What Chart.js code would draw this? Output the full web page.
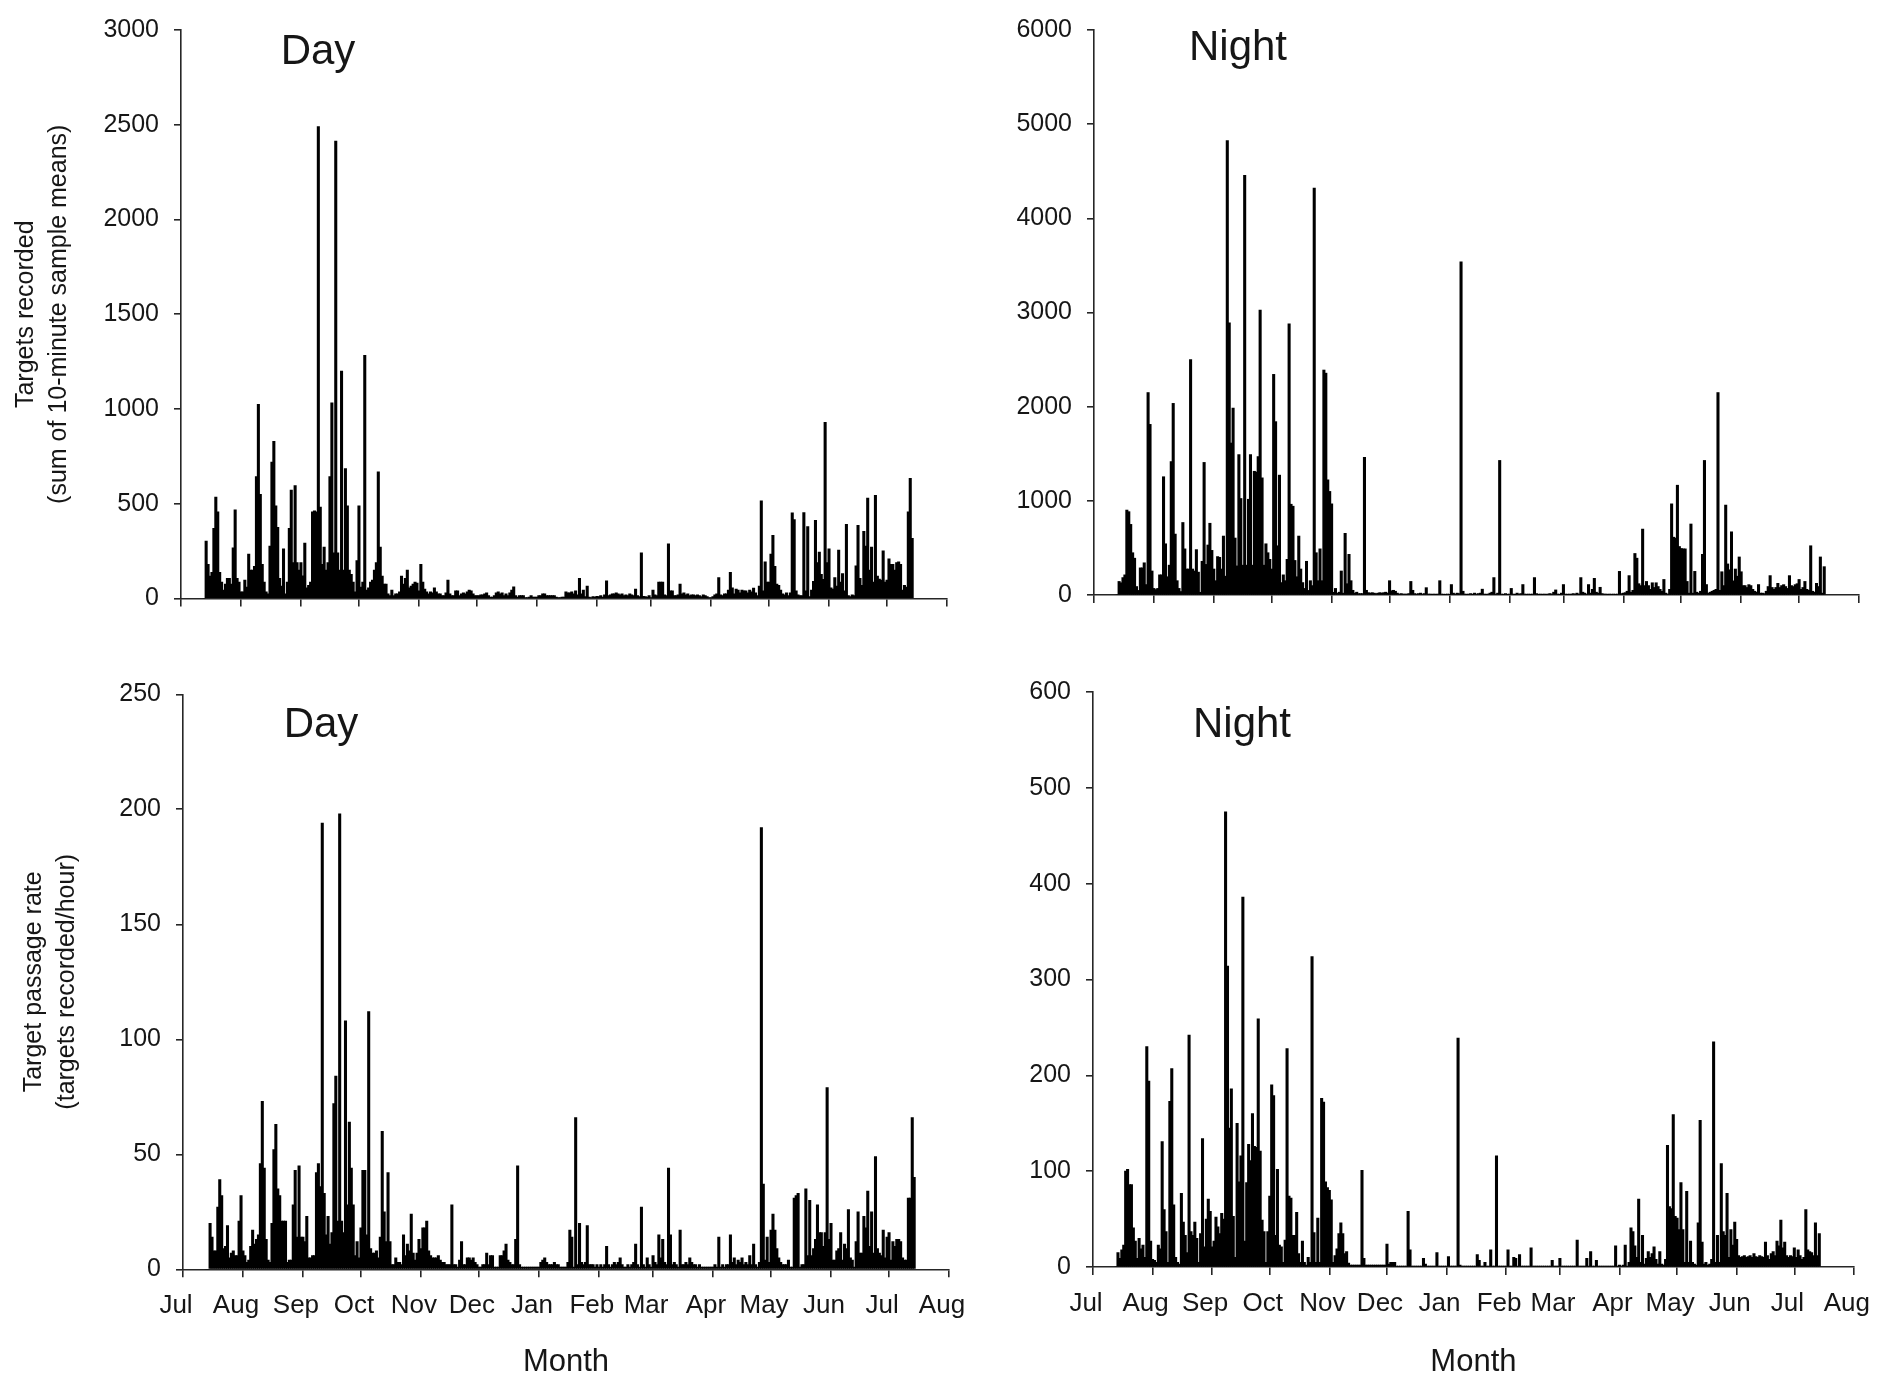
<!DOCTYPE html>
<html>
<head>
<meta charset="utf-8">
<title>Targets recorded by day and night</title>
<script src="https://cdn.jsdelivr.net/npm/chart.js@4.4.1/dist/chart.umd.min.js"></script>
<style>
  html, body { margin: 0; padding: 0; background: #fff; }
  body { position: relative; width: 1890px; height: 1378px; overflow: hidden; }
  canvas { position: absolute; }
</style>
</head>
<body>
<canvas id="chart-day-counts" width="1000" height="640" style="left:0;top:0"></canvas>
<canvas id="chart-night-counts" width="950" height="640" style="left:940px;top:0"></canvas>
<canvas id="chart-day-rates" width="1000" height="718" style="left:0;top:660px"></canvas>
<canvas id="chart-night-rates" width="950" height="718" style="left:940px;top:660px"></canvas>
<script>
// x axis: days counted from 1 July, ticks at the first of each month
var monthStarts = [0, 31, 62, 92, 123, 153, 184, 215, 243, 274, 304, 335, 365, 396];
var monthNames = ['Jul', 'Aug', 'Sep', 'Oct', 'Nov', 'Dec', 'Jan', 'Feb', 'Mar', 'Apr', 'May', 'Jun', 'Jul', 'Aug'];

// first value of every series is day 12 (13 July); one value per day, one row per month
var startDay = 12;

// targets recorded, day (sum of 10-minute sample means)
var dayCounts = [
  0,303,180,118,138,370,535,458,138,87,45,76,107,107,76,268,468,107,87,                               // Jul
  35,35,97,60,235,150,150,170,644,1025,550,180,87,35,25,276,720,830,489,375,107,66,262,25,87,370,572,190,596,190,150, // Aug
  190,120,293,56,70,87,458,462,458,2490,483,180,272,150,190,644,1032,241,2414,241,150,1200,150,685,489,150,128,87,35,200, // Sep
  489,60,87,1283,45,56,87,97,150,190,668,272,118,76,76,25,15,45,15,25,25,35,118,76,107,150,56,66,76,87,82, // Oct
  40,180,87,50,35,25,35,30,56,35,25,25,15,15,30,97,25,15,15,41,41,15,25,30,25,35,45,41,25,15,          // Nov
  15,15,20,20,25,30,15,8,8,15,30,35,25,30,15,25,15,30,45,62,15,8,15,15,15,4,4,8,15,8,8,                // Dec
  8,15,15,25,25,15,15,15,15,15,8,4,4,8,8,35,30,30,35,25,40,20,107,25,45,10,66,8,5,10,8,               // Jan
  12,10,15,8,20,93,15,20,25,25,30,25,20,25,15,20,15,25,20,15,50,15,10,241,12,10,8,15,                 // Feb
  5,45,20,15,87,87,87,20,15,289,41,41,15,15,20,76,25,30,20,25,15,20,20,15,20,15,10,20,15,10,5,         // Mar
  5,10,20,25,111,20,15,25,25,45,138,56,25,50,45,30,45,40,40,30,45,35,55,30,15,66,516,40,194,87,        // Apr
  87,235,334,170,76,70,45,25,20,30,15,30,452,417,41,20,15,15,454,41,380,10,45,91,413,190,245,128,101,929,190, // May
  262,56,50,111,66,256,87,132,40,392,15,10,20,15,173,386,107,70,355,276,530,150,272,87,545,118,103,97,252,87, // Jun
  97,210,180,180,150,190,194,180,45,70,60,458,634,318                                                  // Jul
];

// targets recorded, night
var nightCounts = [
  0,144,130,185,214,902,885,750,449,391,90,49,288,288,342,111,2150,1812,255,
  70,58,70,214,214,1256,544,194,317,1417,2035,647,152,70,37,770,490,276,276,2500,276,255,482,243,29,358,1408,325,531,762,474,
  276,152,408,400,276,626,200,4827,2891,1614,1985,605,309,1491,1025,317,4456,317,1017,1491,317,1314,1306,1470,3027,1244,317,544,449,379,
  276,2343,1841,523,1273,132,214,152,379,2879,964,943,367,194,626,276,132,70,358,49,152,100,4320,449,152,490,152,2389,2356,1223,1100,
  968,29,70,20,30,255,20,655,120,432,152,50,20,30,15,15,15,1462,50,25,20,25,20,15,20,25,20,25,30,20,
  152,45,50,40,20,10,15,10,10,10,15,144,50,15,10,15,20,10,15,78,10,10,5,10,5,10,152,10,5,5,10,
  5,111,20,10,20,15,3538,40,10,5,10,15,5,20,10,15,20,62,10,5,10,20,30,185,10,20,1429,10,5,15,5,
  10,70,10,5,20,10,15,111,10,5,10,5,10,185,15,5,10,5,10,5,10,15,10,30,54,10,5,20,
  111,10,5,10,5,15,10,20,10,185,30,20,10,111,20,60,177,30,20,82,15,10,10,5,10,5,10,5,10,251,15,
  20,25,40,206,30,50,441,391,120,100,700,100,144,100,60,130,80,130,90,60,40,165,20,10,60,968,614,605,1166,515,
  494,490,490,144,20,754,20,251,30,20,40,432,1429,111,20,30,40,50,60,2150,50,247,100,955,330,268,671,150,276,200,404,
  247,100,100,80,110,100,60,40,30,111,20,20,15,40,90,206,80,60,80,124,80,100,110,90,70,206,100,90,110,120,
  165,60,80,144,60,50,523,40,30,124,90,404,20,301
];

// target passage rate, day (targets recorded/hour)
var dayRates = [
  0,0,20,14,8,8,27,39,32,9,10,19,5,7,8,6,6,21,32,
  8,6,3,4,10,17,11,13,15,46,73,44,13,4,3,20,52,63,35,32,21,21,21,3,4,4,28,43,14,45,14,
  14,12,23,5,5,6,6,42,46,36,194,33,15,23,11,16,72,84,21,198,21,16,108,28,64,44,28,6,12,5,
  18,43,43,15,112,9,7,7,8,5,14,60,25,12,42,12,2,2,5,3,3,2,15,6,11,8,24,7,4,7,13,
  9,18,18,21,8,6,5,5,5,6,4,3,3,2,2,2,28,2,2,1,4,12,2,2,5,5,4,5,3,2,
  1,1,2,2,7,2,6,6,1,1,1,6,6,8,11,4,3,2,2,13,45,2,1,1,1,1,1,1,1,1,1,
  1,3,4,5,3,2,2,2,3,2,2,1,1,1,1,3,17,14,1,66,2,20,3,2,3,19,2,2,2,1,2,
  1,2,1,2,10,2,1,2,3,2,3,5,2,1,1,2,1,2,3,11,2,1,27,2,1,5,2,1,
  6,3,2,15,5,13,3,2,44,15,2,3,2,1,17,2,2,3,2,5,3,2,2,1,2,1,1,1,1,1,1,
  1,2,1,14,1,2,1,2,2,15,3,5,2,4,3,5,2,3,2,6,2,11,2,1,3,192,37,4,14,3,
  17,24,17,9,5,3,2,2,2,4,1,1,31,32,33,1,2,2,35,6,30,6,9,13,28,16,16,10,16,79,13,
  20,4,4,8,9,16,4,11,9,26,5,4,1,12,25,7,7,23,18,34,10,25,7,49,9,7,6,17,5,14,
  16,4,12,10,13,13,12,5,4,4,31,31,66,40
];

// target passage rate, night
var nightRates = [
  0,15,9,18,23,100,102,86,86,41,27,9,30,19,23,10,230,194,27,
  8,7,5,23,19,131,60,37,5,173,207,65,10,5,3,77,47,33,15,242,37,33,47,30,5,35,134,21,50,71,58,
  21,27,52,42,35,56,50,475,314,145,186,53,10,150,89,116,386,27,88,128,111,160,126,125,259,121,49,37,5,37,
  74,190,179,33,102,23,21,5,28,228,74,72,33,33,57,14,5,27,5,2,10,5,324,36,5,51,5,176,172,89,83,
  80,70,5,12,19,35,46,35,14,16,4,2,2,2,2,2,2,101,9,2,2,2,2,2,2,2,2,2,2,2,
  24,3,5,5,5,1,1,1,1,1,1,58,18,1,1,1,1,1,1,9,3,1,1,1,1,1,15,1,1,1,1,
  1,11,1,1,1,1,239,2,1,1,1,1,1,1,1,1,13,7,1,1,5,1,1,18,1,1,116,1,1,1,1,
  1,18,1,1,10,9,1,13,1,1,1,1,1,20,1,1,1,1,1,1,1,1,1,1,7,1,1,1,
  9,1,1,1,1,1,1,1,1,28,1,1,1,1,9,1,16,1,1,7,1,1,1,1,1,1,1,1,1,22,1,
  2,1,2,23,1,5,41,37,22,10,71,5,33,3,9,16,10,14,21,8,3,16,3,2,8,127,63,61,159,53,
  51,39,88,39,5,79,5,27,5,3,2,46,153,26,3,5,2,3,8,235,5,33,5,108,37,33,77,10,39,23,47,
  29,12,10,11,12,10,11,12,10,14,11,10,12,11,10,26,12,8,14,16,12,27,22,49,20,26,12,10,12,11,
  20,10,18,12,8,10,60,18,16,15,12,46,12,35
];

var FONT = '"Liberation Sans", Arial, Helvetica, sans-serif';
var INK = '#161616';
var AXIS = '#262626';

Chart.defaults.font.family = FONT;
Chart.defaults.color = INK;

// "Day" / "Night" label inside each panel
var panelTitle = {
  id: 'panelTitle',
  afterDraw: function(chart, args, opts) {
    var ctx = chart.ctx;
    ctx.save();
    ctx.font = opts.size + 'px ' + FONT;
    ctx.fillStyle = INK;
    ctx.textAlign = 'center';
    ctx.textBaseline = 'alphabetic';
    ctx.fillText(opts.text, opts.x, opts.y);
    ctx.restore();
  }
};

function toPoints(values) {
  return values.map(function(v, i) {
    return { x: startDay + i, y: v };
  });
}

/**
 * One panel. cfg.plot is the plot rectangle in canvas pixels.
 */
function drawPanel(cfg) {
  var canvas = document.getElementById(cfg.id);
  var plot = cfg.plot;

  new Chart(canvas, {
    type: 'bar',
    data: {
      datasets: [{
        data: toPoints(cfg.values),
        backgroundColor: '#000',
        borderColor: '#000',
        borderWidth: 0,
        barThickness: 2.4
      }]
    },
    plugins: [panelTitle],
    options: {
      responsive: false,
      animation: false,
      events: [],
      layout: {
        padding: { left: 0, top: plot.top, right: canvas.width - plot.right, bottom: 0 }
      },
      plugins: {
        legend: { display: false },
        tooltip: { enabled: false },
        panelTitle: { text: cfg.title, x: cfg.titleX, y: cfg.titleY, size: 42 }
      },
      scales: {
        x: {
          type: 'linear',
          min: 0,
          max: 396,
          offset: false,
          afterBuildTicks: function(scale) {
            scale.ticks = monthStarts.map(function(v) { return { value: v }; });
          },
          afterFit: function(scale) {
            scale.height = canvas.height - plot.bottom;
          },
          grid: { offset: false, drawOnChartArea: false, drawTicks: true, tickLength: 8, color: AXIS, lineWidth: 1.6 },
          border: { display: true, color: AXIS, width: 1.6 },
          ticks: {
            display: cfg.monthLabels,
            autoSkip: false,
            maxRotation: 0,
            padding: 13,
            labelOffset: -7,
            font: { size: 26 },
            color: INK,
            callback: function(value) {
              var k = monthStarts.indexOf(value);
              return k >= 0 ? monthNames[k] : '';
            }
          },
          title: {
            display: cfg.monthLabels,
            text: 'Month',
            color: INK,
            font: { size: 31, lineHeight: 1.1 },
            padding: { top: 0, bottom: -2 }
          }
        },
        y: {
          min: 0,
          max: cfg.yMax,
          afterFit: function(scale) {
            scale.width = plot.left;
          },
          grid: { drawOnChartArea: false, drawTicks: true, tickLength: 7, color: AXIS, lineWidth: 1.6 },
          border: { display: true, color: AXIS, width: 1.6 },
          ticks: {
            stepSize: cfg.yStep,
            padding: 15,
            font: { size: 25 },
            color: INK,
            callback: function(value) { return String(value); }
          },
          title: {
            display: !!cfg.yTitle,
            text: cfg.yTitle || '',
            color: INK,
            font: { size: 25, lineHeight: 1.3 },
            padding: { top: cfg.yTitlePad || 0, bottom: 0 }
          }
        }
      }
    }
  });
}

drawPanel({
  id: 'chart-day-counts', values: dayCounts, yMax: 3000, yStep: 500,
  plot: { left: 181, top: 21.5, right: 947, bottom: 598.5 },
  yTitle: ['Targets recorded', '(sum of 10-minute sample means)'], yTitlePad: 10,
  monthLabels: false, title: 'Day', titleX: 318, titleY: 64
});

drawPanel({
  id: 'chart-night-counts', values: nightCounts, yMax: 6000, yStep: 1000,
  plot: { left: 154, top: 20.5, right: 919, bottom: 595 },
  monthLabels: false, title: 'Night', titleX: 298, titleY: 60
});

drawPanel({
  id: 'chart-day-rates', values: dayRates, yMax: 250, yStep: 50,
  plot: { left: 183, top: 34.3, right: 949, bottom: 609.3 },
  yTitle: ['Target passage rate', '(targets recorded/hour)'], yTitlePad: 18,
  monthLabels: true, title: 'Day', titleX: 321, titleY: 76.5
});

drawPanel({
  id: 'chart-night-rates', values: nightRates, yMax: 600, yStep: 100,
  plot: { left: 153, top: 32, right: 918.7, bottom: 607 },
  monthLabels: true, title: 'Night', titleX: 302, titleY: 76.5
});
</script>
</body>
</html>
